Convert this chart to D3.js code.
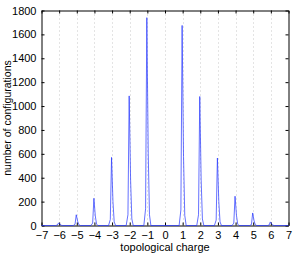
<!DOCTYPE html>
<html>
<head>
<meta charset="utf-8">
<script src="https://cdn.jsdelivr.net/npm/d3@7"></script>
<style>
  body { margin: 0; background: #fff; }
  text { font-family: "Liberation Sans", Arial, sans-serif; font-size: 11px; fill: #000; }
</style>
</head>
<body>
<svg id="chart" width="296" height="256"></svg>
<script>
// x ticks (topological charge) and y ticks
var xTicks = [-7, -6, -5, -4, -3, -2, -1, 0, 1, 2, 3, 4, 5, 6, 7];
var yTicks = [0, 200, 400, 600, 800, 1000, 1200, 1400, 1600, 1800];

// histogram line: charge value and number of configurations
var charge = [
  -7, -6.2, -6.1, -6.03, -5.95, -5.88, -5.8,
  -5.2, -5.1, -5.03, -4.95, -4.88, -4.8,
  -4.2, -4.1, -4.03, -3.95, -3.88, -3.8,
  -3.2, -3.1, -3.03, -2.95, -2.88, -2.8,
  -2.2, -2.1, -2.03, -1.95, -1.88, -1.8,
  -1.2, -1.1, -1.03, -0.95, -0.88, -0.8,
  0.8, 0.9, 0.97, 1.05, 1.12, 1.2,
  1.8, 1.9, 1.97, 2.05, 2.12, 2.2,
  2.8, 2.9, 2.97, 3.05, 3.12, 3.2,
  3.8, 3.9, 3.97, 4.05, 4.12, 4.2,
  4.8, 4.9, 4.97, 5.05, 5.12, 5.2,
  5.8, 5.9, 5.97, 6.05, 6.12, 6.2, 7
];
var configs = [
  0, 0, 4, 22, 10, 2, 0,
  0, 10, 90, 35, 6, 0,
  0, 20, 228, 80, 12, 0,
  0, 50, 570, 200, 30, 0,
  0, 90, 1085, 380, 55, 0,
  0, 140, 1740, 600, 90, 0,
  0, 130, 1675, 580, 85, 0,
  0, 90, 1080, 380, 55, 0,
  0, 45, 565, 200, 30, 0,
  0, 20, 245, 85, 12, 0,
  0, 8, 105, 38, 6, 0,
  0, 3, 30, 12, 2, 0, 0
];

var svg = d3.select("#chart");
var padL = 41.5, padR = 288.5, padT = 10.5, padB = 225.5;

var x = d3.scaleLinear().domain([-7, 7]).range([padL, padR]);
var y = d3.scaleLinear().domain([0, 1800]).range([padB, padT]);

// dotted grid at each integer charge
svg.append("g")
  .selectAll("line")
  .data(xTicks.slice(1, -1))
  .enter().append("line")
  .attr("x1", d => Math.round(x(d)) + 0.5)
  .attr("x2", d => Math.round(x(d)) + 0.5)
  .attr("y1", padT)
  .attr("y2", padB)
  .attr("stroke", "#bbb")
  .attr("stroke-width", 0.8)
  .attr("stroke-dasharray", "1,3");

// axes, MATLAB style box with inward ticks on all sides
var fmt = d => d < 0 ? "\u2212" + Math.abs(d) : String(d);
var xAxisB = d3.axisBottom(x).tickValues(xTicks).tickSizeInner(-3).tickSizeOuter(0).tickPadding(6).tickFormat(fmt);
var xAxisT = d3.axisTop(x).tickValues(xTicks).tickSizeInner(-3).tickSizeOuter(0).tickFormat("");
var yAxisL = d3.axisLeft(y).tickValues(yTicks).tickSizeInner(-3).tickSizeOuter(0).tickPadding(5).tickFormat(fmt);
var yAxisR = d3.axisRight(y).tickValues(yTicks).tickSizeInner(-3).tickSizeOuter(0).tickFormat("");

[[xAxisB, `translate(0,${padB})`], [xAxisT, `translate(0,${padT})`],
 [yAxisL, `translate(${padL},0)`], [yAxisR, `translate(${padR},0)`]].forEach(function(a) {
  var g = svg.append("g").attr("transform", a[1]).call(a[0]);
  g.selectAll("text").attr("font-family", null).attr("font-size", null).attr("fill", null);
  g.select(".domain").attr("stroke", "#000").attr("stroke-width", 1);
  g.selectAll(".tick line").attr("stroke", "#000").attr("stroke-width", 1);
});

// the line, drawn over the axis box like the original
var pts = charge.map((c, i) => [c, configs[i]]);
var line = d3.line().x(d => x(d[0])).y(d => y(d[1]));
svg.append("path")
  .datum(pts)
  .attr("d", line)
  .attr("fill", "none")
  .attr("stroke", "#2233ff")
  .attr("stroke-width", 0.7)
  .attr("stroke-linejoin", "round");

svg.append("text")
  .attr("x", (padL + padR) / 2)
  .attr("y", 251)
  .attr("text-anchor", "middle")
  .text("topological charge");

svg.append("text")
  .attr("transform", `translate(11,${(padT + padB) / 2}) rotate(-90)`)
  .attr("text-anchor", "middle")
  .style("font-size", "10.5px")
  .text("number of configurations");
</script>
</body>
</html>
